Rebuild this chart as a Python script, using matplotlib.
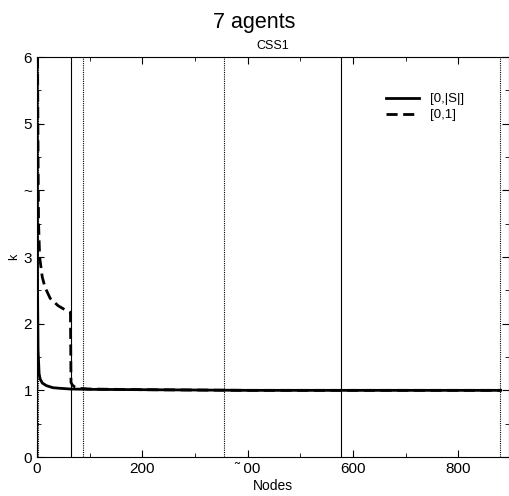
import matplotlib
matplotlib.use('Agg')
import matplotlib.pyplot as plt
from matplotlib.ticker import MultipleLocator

plt.rcParams['font.family'] = ['Liberation Sans', 'DejaVu Sans']

# data
full_x = [0, 0.5, 1, 2, 4, 6, 10, 18, 30, 45, 63, 100, 200, 400, 600, 880]
full_y = [6.2, 4.0, 2.5, 1.6, 1.25, 1.17, 1.11, 1.07, 1.04, 1.03, 1.02, 1.015, 1.01,
          1.0, 1.0, 1.0]
unit_x = [1, 2, 3, 5, 10, 15, 25, 40, 55, 63.5, 64.5, 67, 72, 80, 100, 200, 400, 600, 880]
unit_y = [6.0, 4.5, 3.5, 3.0, 2.7, 2.55, 2.38, 2.27, 2.2, 2.17, 1.12, 1.08, 1.05, 1.03,
          1.02, 1.01, 1.0, 1.0, 1.0]
solid_marks = [64.5, 577]
dotted_marks = [1, 87, 355, 879]
xticks = [0, 200, 400, 600, 800]
xtick_labels = ['0', '200', '\u02dc 00', '600', '800']
yticks = [0, 1, 2, 3, 4, 5, 6]
ytick_labels = ['0', '1', '2', '3', '~', '5', '6']

fig = plt.figure(figsize=(5.09, 4.96), dpi=100)
ax = fig.add_axes([0.0727, 0.0786, 0.9273, 0.8064])

for xv in solid_marks:
    ax.axvline(xv, color='black', lw=0.8, ls='-')
for xv in dotted_marks:
    ax.axvline(xv, color='black', lw=0.8, ls=(0, (1, 1)))

ax.plot(full_x, full_y, color='black', lw=2, ls='-', label='[0,|S|]')
ax.plot(unit_x, unit_y, color='black', lw=2, ls=(0, (4, 2)), label='[0,1]')

ax.set_xlim(0, 896)
ax.set_ylim(0, 6)
ax.set_xticks(xticks)
ax.set_xticklabels(xtick_labels)
ax.set_yticks(yticks)
ax.set_yticklabels(ytick_labels)
ax.xaxis.set_minor_locator(MultipleLocator(100))
ax.yaxis.set_minor_locator(MultipleLocator(0.5))
ax.tick_params(which='both', direction='in', top=True, right=True, labelsize=11)
ax.tick_params(which='major', length=5)
ax.tick_params(which='minor', length=3)

ax.set_xlabel('Nodes', fontsize=10, labelpad=2)
ax.set_ylabel('k', fontsize=9, labelpad=2)
ax.set_title('CSS1', fontsize=9, pad=6)
fig.suptitle('7 agents', fontsize=15.5, y=0.975)

ax.legend(loc='upper right', bbox_to_anchor=(0.93, 0.94), frameon=False, fontsize=9.5,
          handlelength=2.5, labelspacing=0.3)

fig.savefig('out.png', dpi=100)
